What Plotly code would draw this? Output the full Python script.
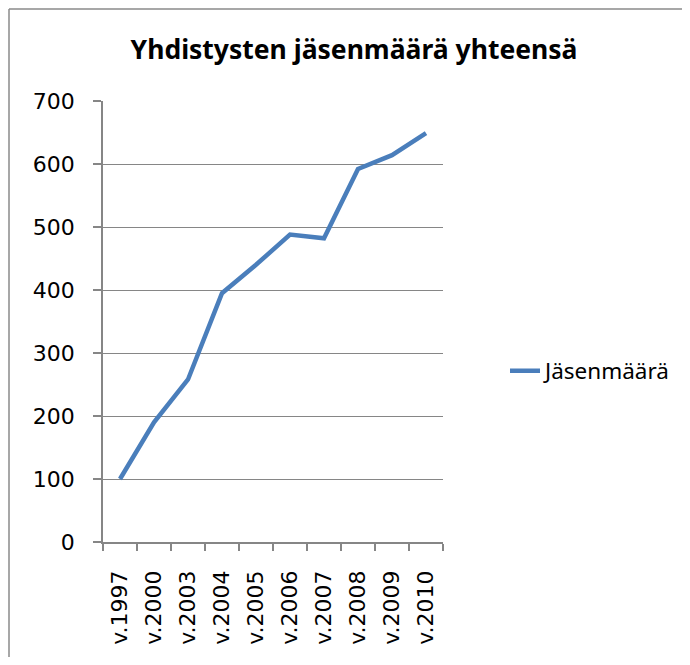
import plotly.graph_objects as go

# Yhdistysten jäsenmäärä vuosittain
years = ["v.1997", "v.2000", "v.2003", "v.2004", "v.2005",
         "v.2006", "v.2007", "v.2008", "v.2009", "v.2010"]
members = [100, 190, 258, 395, 440, 488, 482, 592, 614, 649]
y_ticks = [0, 100, 200, 300, 400, 500, 600, 700]

GRID = "#868686"
LINE_BLUE = "#4A7EBB"
FRAME = "#8a8a8a"

# the page body adds an 8px margin on every side: keep the figure inside it
OFF = 8
W_PX, H_PX = 690 - 2 * OFF, 665 - 2 * OFF
L, R, T, B = 103 - OFF, 443 - OFF, 101 - OFF, 542 - OFF
pw, ph = R - L, B - T


def px_x(x):
    return (x - OFF - L) / pw


def px_y(y):
    return (B - (y - OFF)) / ph


fig = go.Figure()
fig.add_trace(go.Scatter(
    x=years, y=members, mode="lines", name="Jäsenmäärä",
    line=dict(color=LINE_BLUE, width=4.5),
))

# chart frame: only the top and left edges fall inside the window
frame_left = px_x(OFF + 1)
frame_top = px_y(9)
frame = [
    dict(type="line", xref="paper", yref="paper",
         x0=frame_left, x1=px_x(700), y0=frame_top, y1=frame_top,
         line=dict(color=FRAME, width=1.5), layer="below"),
    dict(type="line", xref="paper", yref="paper",
         x0=frame_left, x1=frame_left, y0=frame_top, y1=px_y(680),
         line=dict(color=FRAME, width=1.5), layer="below"),
]

fig.update_layout(
    width=W_PX, height=H_PX,
    margin=dict(l=L, r=W_PX - R, t=T, b=H_PX - B, autoexpand=False),
    paper_bgcolor="white", plot_bgcolor="white",
    title=dict(
        text="<b>Yhdistysten jäsenmäärä yhteensä</b>",
        font=dict(family="Noto Sans", size=26.5, color="black"),
        xref="container", x=(354 - OFF) / W_PX, xanchor="center",
        yref="container", y=1 - (50 - OFF) / H_PX, yanchor="middle",
    ),
    showlegend=True,
    legend=dict(
        x=px_x(505), xanchor="left",
        y=px_y(371), yanchor="middle",
        font=dict(family="Noto Sans", size=22.5, color="black"),
        bgcolor="rgba(0,0,0,0)",
    ),
    xaxis=dict(
        type="category", range=[-0.5, len(years) - 0.5],
        showgrid=False, showline=True, linecolor=GRID, linewidth=1.5,
        ticks="outside", tickson="boundaries", ticklen=7,
        tickcolor=GRID, tickwidth=1.5,
        tickangle=-90, ticklabelstandoff=18,
        tickfont=dict(family="DejaVu Sans", size=22, color="black"),
        fixedrange=True,
    ),
    yaxis=dict(
        range=[0, 700], tickvals=y_ticks,
        showgrid=True, gridcolor=GRID, gridwidth=1.3,
        showline=True, linecolor=GRID, linewidth=1.5,
        ticks="outside", ticklen=8, tickcolor=GRID, tickwidth=1.5,
        ticklabelstandoff=14,
        tickfont=dict(family="DejaVu Sans", size=22, color="black"),
        zeroline=False, fixedrange=True,
    ),
    shapes=frame,
)

fig.write_html("out.html")
